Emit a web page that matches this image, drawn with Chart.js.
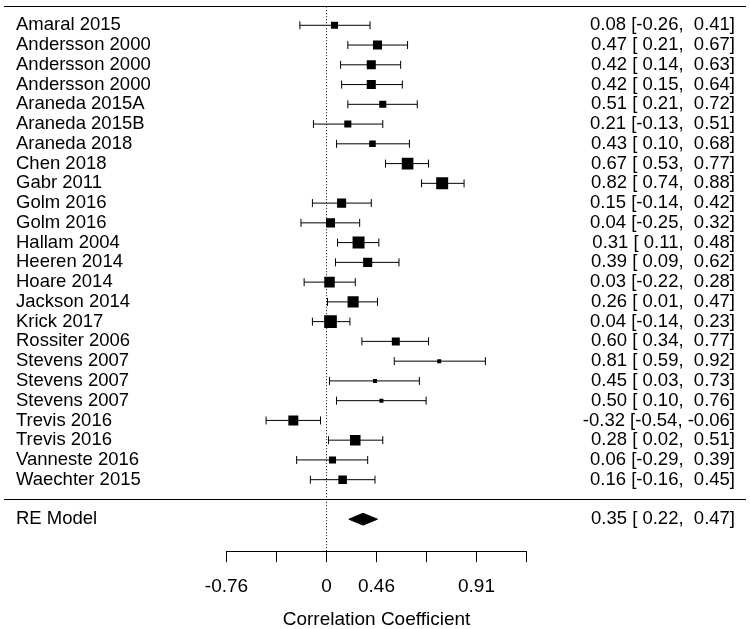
<!DOCTYPE html>
<html>
<head>
<meta charset="utf-8">
<script src="https://cdn.jsdelivr.net/npm/chart.js@4.4.1/dist/chart.umd.min.js"></script>
<style>
    html, body { margin: 0; padding: 0; background: #fff; }
    #wrap { width: 750px; height: 629px; position: relative; }
</style>
</head>
<body>
<div id="wrap"><canvas id="forest"></canvas></div>
<script>
// studies top to bottom, correlation r with 95% CI
const studies = [
    'Amaral 2015', 'Andersson 2000', 'Andersson 2000', 'Andersson 2000',
    'Araneda 2015A', 'Araneda 2015B', 'Araneda 2018', 'Chen 2018',
    'Gabr 2011', 'Golm 2016', 'Golm 2016', 'Hallam 2004',
    'Heeren 2014', 'Hoare 2014', 'Jackson 2014', 'Krick 2017',
    'Rossiter 2006', 'Stevens 2007', 'Stevens 2007', 'Stevens 2007',
    'Trevis 2016', 'Trevis 2016', 'Vanneste 2016', 'Waechter 2015'
];
const est = [0.08, 0.47, 0.42, 0.42, 0.51, 0.21, 0.43, 0.67, 0.82, 0.15, 0.04, 0.31,
             0.39, 0.03, 0.26, 0.04, 0.60, 0.81, 0.45, 0.50, -0.32, 0.28, 0.06, 0.16];
const lower = [-0.26, 0.21, 0.14, 0.15, 0.21, -0.13, 0.10, 0.53, 0.74, -0.14, -0.25, 0.11,
               0.09, -0.22, 0.01, -0.14, 0.34, 0.59, 0.03, 0.10, -0.54, 0.02, -0.29, -0.16];
const upper = [0.41, 0.67, 0.63, 0.64, 0.72, 0.51, 0.68, 0.77, 0.88, 0.42, 0.32, 0.48,
               0.62, 0.28, 0.47, 0.23, 0.77, 0.92, 0.73, 0.76, -0.06, 0.51, 0.39, 0.45];
const weights = [3.3, 4.4, 4.4, 4.4, 3.3, 3.3, 3.0, 5.8, 6.0, 4.4, 4.4, 6.0,
                 4.4, 5.2, 5.5, 6.4, 3.8, 1.6, 1.6, 1.6, 4.9, 5.2, 3.3, 4.1];

const pooledLabel = 'RE Model';
const pooled = [0.35, 0.22, 0.47]; // estimate, lower, upper

// axis is on the Fisher z scale, labels back-transformed to r
const tickValues = [-1, -0.5, 0, 0.5, 1, 1.5, 2];
const tickLabels = ['-0.76', '', '0', '0.46', '', '0.91', ''];
const axisTitle = 'Correlation Coefficient';

const FONT = '"Liberation Sans", Arial, sans-serif';
const k = studies.length;
const rows = studies.map((s, i) => k - i);
const pooledRow = -1;
const z = r => Math.atanh(r);

const wMin = Math.min(...weights), wMax = Math.max(...weights);
const sideFor = w => 4 + (w - wMin) / (wMax - wMin) * 8.7;

function pad(v) {
    let s = v.toFixed(2);
    while (s.length < 5) s = ' ' + s;
    return s;
}
function ciText(e, l, u) {
    return e.toFixed(2) + ' [' + pad(l) + ', ' + pad(u) + ']';
}

const whiskerData = [];
const capData = [];
studies.forEach((s, i) => {
    whiskerData.push({ x: z(lower[i]), y: rows[i] }, { x: z(upper[i]), y: rows[i] }, { x: z(upper[i]), y: null });
    capData.push({ x: z(lower[i]), y: rows[i] }, { x: z(upper[i]), y: rows[i] });
});

const yMin = -2.62, yMax = 25.28;

const forestText = {
    id: 'forestText',
    afterDraw(chart) {
        const ctx = chart.ctx;
        const y = chart.scales.y;
        ctx.save();
        ctx.strokeStyle = '#000';
        ctx.lineWidth = 1;
        [k + 1, 0].forEach(r => {
            const py = Math.round(y.getPixelForValue(r)) + 0.5;
            ctx.beginPath();
            ctx.moveTo(4, py);
            ctx.lineTo(746, py);
            ctx.stroke();
        });
        ctx.font = '18.5px ' + FONT;
        ctx.fillStyle = '#000';
        ctx.textBaseline = 'middle';
        studies.forEach((s, i) => {
            const py = y.getPixelForValue(rows[i]);
            ctx.textAlign = 'left';
            ctx.fillText(s, 16, py);
            ctx.textAlign = 'right';
            ctx.fillText(ciText(est[i], lower[i], upper[i]), 735, py);
        });
        const pp = y.getPixelForValue(pooledRow);
        ctx.textAlign = 'left';
        ctx.fillText(pooledLabel, 16, pp);
        ctx.textAlign = 'right';
        ctx.fillText(ciText(pooled[0], pooled[1], pooled[2]), 735, pp);
        ctx.restore();
    }
};

new Chart(document.getElementById('forest'), {
    type: 'scatter',
    data: {
        datasets: [
            {
                // study squares
                data: studies.map((s, i) => ({ x: z(est[i]), y: rows[i] })),
                pointStyle: 'rect',
                pointRadius: weights.map(w => sideFor(w) / Math.SQRT2),
                backgroundColor: '#000',
                borderWidth: 0,
            },
            {
                // whisker end caps
                data: capData,
                pointStyle: 'line',
                rotation: 90,
                pointRadius: 4,
                borderColor: '#000',
                borderWidth: 1,
            },
            {
                // confidence intervals
                data: whiskerData,
                showLine: true,
                spanGaps: false,
                pointRadius: 0,
                borderColor: '#000',
                borderWidth: 1,
            },
            {
                // pooled diamond, upper edge (filled down to the lower edge)
                type: 'line',
                data: [{ x: z(pooled[1]), y: pooledRow }, { x: z(pooled[0]), y: pooledRow + 0.3 }, { x: z(pooled[2]), y: pooledRow }],
                pointRadius: 0,
                borderColor: '#000',
                borderWidth: 1,
                backgroundColor: '#000',
                fill: '+1',
            },
            {
                // pooled diamond, lower edge
                type: 'line',
                data: [{ x: z(pooled[1]), y: pooledRow }, { x: z(pooled[0]), y: pooledRow - 0.3 }, { x: z(pooled[2]), y: pooledRow }],
                pointRadius: 0,
                borderColor: '#000',
                borderWidth: 1,
                fill: false,
            },
            {
                // reference line at zero
                data: [{ x: 0, y: yMin }, { x: 0, y: k + 0.9 }],
                showLine: true,
                pointRadius: 0,
                borderColor: '#000',
                borderWidth: 1,
                borderDash: [1, 2],
            },
        ]
    },
    options: {
        responsive: true,
        maintainAspectRatio: false,
        animation: false,
        events: [],
        layout: { autoPadding: false, padding: { left: 226.5, right: 223.5, top: 0, bottom: 4 } },
        plugins: {
            legend: { display: false },
            tooltip: { enabled: false },
        },
        scales: {
            x: {
                type: 'linear',
                position: 'bottom',
                min: -1,
                max: 2,
                afterBuildTicks: scale => { scale.ticks = tickValues.map(v => ({ value: v })); },
                ticks: {
                    autoSkip: false,
                    maxRotation: 0,
                    color: '#000',
                    padding: 13,
                    font: { family: FONT, size: 19 },
                    callback: (v) => tickLabels[tickValues.indexOf(v)],
                },
                grid: {
                    display: true,
                    drawOnChartArea: false,
                    drawTicks: true,
                    tickLength: 11,
                    color: '#000',
                    lineWidth: 1,
                },
                border: { display: true, color: '#000', width: 1 },
                title: {
                    display: true,
                    text: axisTitle,
                    color: '#000',
                    font: { family: FONT, size: 19 },
                    padding: { top: -2.8, bottom: -6 },
                },
            },
            y: {
                type: 'linear',
                display: false,
                min: yMin,
                max: yMax,
            }
        }
    },
    plugins: [forestText]
});
</script>
</body>
</html>
